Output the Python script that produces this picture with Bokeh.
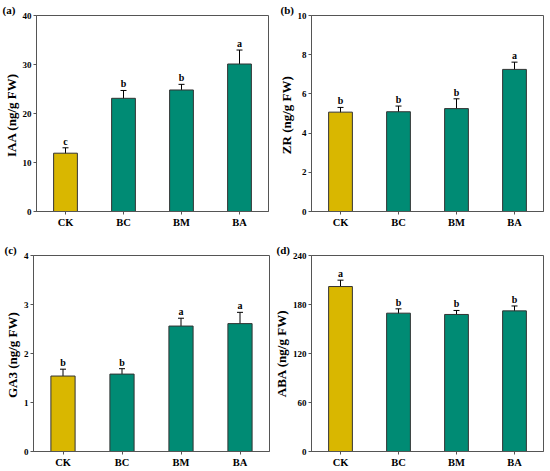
from bokeh.plotting import figure
from bokeh.models import ColumnDataSource, Range1d, FactorRange, FixedTicker, Whisker, TeeHead
from bokeh.layouts import column, row
from bokeh.embed import file_html
from bokeh.resources import INLINE
from bokeh.core.properties import value

categories = ["CK", "BC", "BM", "BA"]
bar_colors = ["#D9B700", "#008B74", "#008B74", "#008B74"]

iaa = [11.9, 23.1, 24.8, 30.1]
iaa_err = [1.1, 1.6, 1.15, 2.85]
iaa_sig = ["c", "b", "b", "a"]

zr = [5.07, 5.09, 5.25, 7.25]
zr_err = [0.24, 0.29, 0.5, 0.37]
zr_sig = ["b", "b", "b", "a"]

ga3 = [1.54, 1.58, 2.56, 2.61]
ga3_err = [0.14, 0.11, 0.16, 0.23]
ga3_sig = ["b", "b", "a", "a"]

aba = [202.0, 169.4, 167.8, 172.2]
aba_err = [7.8, 5.3, 4.9, 6.0]
aba_sig = ["a", "b", "b", "b"]

FONT = "Liberation Serif"
AXC = "#555555"


def panel(tag, ylabel, vals, errs, sig, ymax, ticks, width, height,
          left, top, bottom, right, tag_dx):
    src = ColumnDataSource(dict(
        cat=categories, val=vals,
        upper=[v + e for v, e in zip(vals, errs)],
        lower=[v - e for v, e in zip(vals, errs)],
        sig=sig, color=bar_colors,
    ))
    p = figure(x_range=FactorRange(*categories), y_range=Range1d(0, ymax),
               width=width, height=height, output_backend="svg",
               toolbar_location=None, min_border_top=top, min_border_bottom=bottom,
               min_border_right=right, min_border_left=left)
    p.vbar(x="cat", top="val", width=0.41, source=src, fill_color="color",
           line_color="#333333", line_width=1)
    w = Whisker(base="cat", upper="upper", lower="lower", source=src,
                line_color="black", line_width=1,
                upper_head=TeeHead(size=6, line_color="black", line_width=1),
                lower_head=TeeHead(size=6, line_color="black", line_width=1))
    p.add_layout(w)
    p.text(x="cat", y="upper", text="sig", source=src, text_align="center",
           text_baseline="bottom", y_offset=-1, text_font=value(FONT),
           text_font_style="bold", text_font_size="10px", text_color="black")
    p.xgrid.visible = False
    p.ygrid.visible = False
    p.outline_line_color = AXC
    p.outline_line_width = 1
    p.yaxis.ticker = FixedTicker(ticks=ticks)
    for ax in (p.xaxis[0], p.yaxis[0]):
        ax.axis_line_color = AXC
        ax.major_tick_line_color = AXC
        ax.minor_tick_line_color = None
        ax.major_tick_in = 0
        ax.major_tick_out = 3
        ax.major_label_standoff = 2
        ax.major_label_text_font = FONT
        ax.major_label_text_font_style = "bold"
        ax.major_label_text_color = "black"
    p.yaxis.major_label_text_font_size = "9px"
    p.xaxis.major_label_text_font_size = "10.5px"
    p.yaxis.axis_label = ylabel
    p.yaxis.axis_label_standoff = 1
    p.yaxis.axis_label_text_font = FONT
    p.yaxis.axis_label_text_font_style = "bold"
    p.yaxis.axis_label_text_font_size = "13px"
    p.yaxis.axis_label_text_color = "black"
    p.title.text = tag
    p.title.align = "left"
    p.title.offset = tag_dx
    p.title.standoff = 0
    p.title.text_font = FONT
    p.title.text_font_style = "bold"
    p.title.text_font_size = "11px"
    p.title.text_color = "black"
    return p


pa = panel("(a)", "IAA  (ng/g FW)", iaa, iaa_err, iaa_sig, 40, [0, 10, 20, 30, 40],
           275, 235, 36, 15, 24, 7, -34)
pb = panel("(b)", "ZR  (ng/g FW)", zr, zr_err, zr_sig, 10, [0, 2, 4, 6, 8, 10],
           274, 235, 36, 15, 24, 6, -31)
pc = panel("(c)", "GA3  (ng/g FW)", ga3, ga3_err, ga3_sig, 4, [0, 1, 2, 3, 4],
           270, 235, 33, 20, 18, 1, -29)
pd = panel("(d)", "ABA (ng/g FW)", aba, aba_err, aba_sig, 240, [0, 60, 120, 180, 240],
           279, 235, 37, 20, 18, 6, -35)

layout = column(row(pa, pb), row(pc, pd))
open("out.html", "w").write(file_html(layout, INLINE))
